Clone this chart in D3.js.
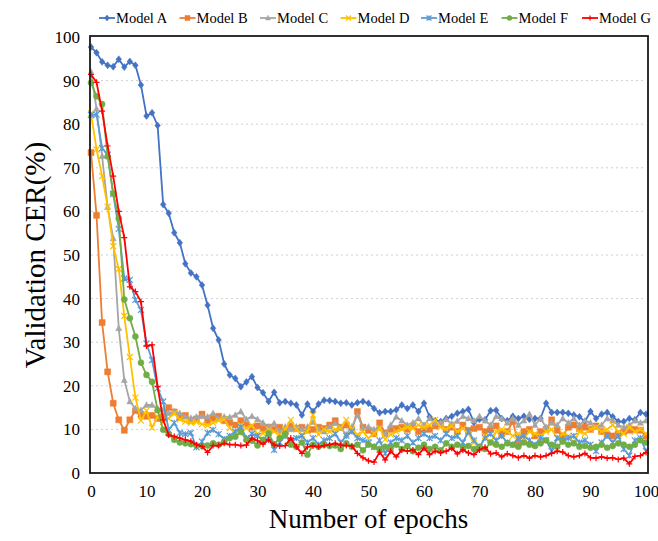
<!DOCTYPE html>
<html><head><meta charset="utf-8">
<script src="https://cdn.jsdelivr.net/npm/d3@7/dist/d3.min.js"></script>
<style>body{margin:0;background:#fff}svg{display:block}</style>
</head><body>
<svg id="c" width="658" height="541"></svg>
<script>
const seriesNames = ["Model A","Model B","Model C","Model D","Model E","Model F","Model G"];
const seriesColors = ["#4472C4","#ED7D31","#A5A5A5","#FFC000","#5B9BD5","#70AD47","#FF0000"];
const seriesMarkers = ["diamond","square","triangle","x","star","circle","plus"];
const xTicks = [0,10,20,30,40,50,60,70,80,90,100];
const yTicks = [0,10,20,30,40,50,60,70,80,90,100];

const modelA = [97.7,96.4,94.3,93.5,93.2,94.9,93.1,94.4,93.5,89.0,
81.9,82.6,79.7,61.6,59.6,55.1,52.8,48.0,45.9,45.0,
43.1,38.5,33.2,30.5,25.0,22.5,21.7,19.8,20.9,22.1,
19.6,18.4,16.4,18.5,16.1,16.4,16.0,15.6,13.3,15.8,
14.1,15.8,16.7,16.6,16.4,16.0,16.1,15.6,16.1,16.4,
16.0,14.8,13.8,14.1,14.1,14.5,15.6,14.8,15.6,14.1,
16.0,12.9,12.0,11.8,12.5,13.0,13.7,14.1,14.6,11.6,
12.3,12.2,14.3,14.4,12.5,12.0,13.0,12.5,13.0,12.3,
12.5,12.5,16.0,13.9,13.9,13.9,13.7,13.3,12.9,11.8,
14.1,12.5,13.5,13.9,12.9,11.8,11.8,12.5,12.2,13.9,13.5];
const modelB = [73.5,59.1,34.5,23.2,16.0,12.2,9.8,12.2,14.3,13.4,
13.0,13.2,12.5,13.0,15.0,14.0,12.8,13.2,12.0,12.4,
13.5,12.0,12.5,13.0,12.0,11.5,11.0,12.0,11.0,10.5,
10.8,10.2,10.5,10.0,10.5,9.5,10.8,10.2,10.5,9.8,
10.0,10.5,10.2,11.0,12.0,10.5,11.0,9.8,14.1,10.5,
9.8,9.0,11.5,9.2,10.0,10.2,10.5,10.0,10.8,9.5,
10.2,10.0,10.8,11.2,10.0,10.5,9.5,11.0,9.8,10.2,
10.5,9.5,10.0,10.8,9.0,9.5,11.8,6.8,9.5,10.0,
8.5,9.5,10.0,12.2,9.8,8.5,10.5,11.0,10.2,10.5,
10.0,10.8,9.5,8.8,8.5,9.0,9.5,9.8,10.0,9.8,8.5];
const modelC = [92.0,83.5,72.7,61.0,53.8,33.2,21.3,16.4,14.8,14.4,
15.6,15.6,14.8,14.5,13.7,14.1,13.7,12.9,12.6,12.9,
13.0,12.9,13.7,12.5,12.9,12.8,13.3,14.1,12.3,13.0,
12.3,11.5,10.6,11.4,9.5,10.6,10.0,10.6,10.0,10.6,
11.7,10.0,9.5,10.6,11.4,10.3,8.8,10.6,13.3,10.3,
10.6,10.0,10.3,8.8,11.0,12.9,12.0,11.0,11.5,12.5,
11.0,12.5,11.5,11.5,12.3,11.3,11.9,13.0,12.5,12.0,
13.0,12.0,11.0,13.0,12.5,11.5,12.5,11.0,12.0,13.5,
11.0,12.5,10.5,11.5,11.0,12.5,11.5,12.5,11.0,12.0,
11.5,10.5,11.0,12.5,12.0,11.0,10.5,11.0,12.0,11.5,12.0];
const modelD = [82.5,74.2,68.1,61.1,52.0,46.8,36.0,26.6,17.3,12.0,
14.3,10.4,12.9,11.7,12.5,13.7,12.3,11.8,11.5,11.7,
11.2,10.9,11.5,12.0,12.3,10.3,9.1,10.9,10.3,10.9,
8.9,9.1,10.0,9.5,8.8,10.0,12.2,10.0,8.8,9.5,
13.3,8.8,10.0,9.5,10.0,10.3,12.2,10.0,8.8,9.5,
8.0,9.0,10.3,7.7,8.8,9.5,10.0,10.5,10.2,11.0,
10.5,11.0,12.2,10.5,10.0,10.8,9.5,10.2,9.0,7.0,
5.6,8.5,6.8,9.5,10.0,9.5,8.5,9.0,8.0,9.5,
9.0,8.5,9.5,10.0,8.0,9.0,8.5,7.0,9.5,9.0,
10.0,10.5,9.5,10.0,11.0,9.5,9.0,10.5,9.5,10.0,9.0];
const modelE = [82.1,82.2,74.5,73.0,64.0,56.0,44.6,44.3,39.7,37.4,
29.7,25.9,19.4,16.4,9.9,11.5,9.2,8.9,9.2,5.9,
7.2,9.2,9.9,8.9,7.8,8.5,9.5,10.5,8.0,9.0,
8.5,7.5,8.0,5.3,7.0,8.5,7.5,8.0,8.5,7.0,
8.0,6.5,7.5,8.0,9.0,7.0,8.5,9.5,8.0,7.5,
7.0,6.0,7.5,4.5,7.0,8.0,7.5,8.5,7.0,8.0,
9.0,8.0,8.5,7.5,9.0,8.0,8.5,7.0,9.5,7.5,
6.0,8.0,9.0,7.5,8.5,7.0,6.5,8.0,8.5,7.5,
6.5,8.0,7.5,5.0,8.0,7.5,8.0,8.5,7.0,7.5,
6.5,5.0,7.0,8.5,7.0,8.5,5.5,4.0,7.5,8.0,5.0];
const modelF = [89.5,86.4,84.6,72.6,64.1,58.4,39.8,35.5,31.3,25.3,
22.5,20.9,14.4,9.9,8.9,7.6,7.0,6.8,6.6,6.3,
6.2,6.3,6.8,6.5,7.2,8.0,8.3,9.4,7.6,7.4,
6.3,7.6,9.1,6.6,8.0,9.0,6.5,6.0,7.0,4.2,
6.5,6.0,6.5,6.2,6.3,5.5,6.8,6.0,6.5,5.2,
6.5,6.0,5.5,6.0,5.8,6.5,5.5,6.2,5.0,5.8,
6.5,5.5,6.0,5.2,6.8,6.0,6.5,5.8,6.2,5.5,
6.0,5.5,7.0,6.5,6.0,6.8,6.5,6.0,7.0,6.5,
6.2,6.8,7.5,6.5,6.0,7.2,6.5,6.8,6.0,6.2,
5.8,6.0,6.5,5.8,6.2,6.8,6.5,6.0,6.5,7.5,7.0];
const modelG = [91.4,89.6,83.0,75.0,68.1,60.0,54.0,42.7,41.6,39.3,
29.1,29.4,19.8,12.2,8.7,8.4,8.0,7.6,7.3,6.5,
6.1,4.7,6.3,6.3,6.8,6.5,6.5,6.3,6.4,8.0,
7.4,6.6,7.6,6.4,6.2,6.3,8.0,6.0,4.5,6.0,
6.2,6.0,6.3,6.5,6.8,6.4,6.3,6.2,4.5,3.5,
2.8,2.5,4.8,3.0,5.0,3.7,5.3,5.0,5.3,4.2,
5.7,4.2,5.0,4.6,5.0,5.7,4.4,5.3,4.6,4.2,
5.3,5.9,4.4,4.6,3.7,4.4,4.0,3.5,4.0,3.4,
4.0,3.7,4.0,4.5,5.0,4.8,4.0,3.7,4.0,4.5,
3.5,3.4,3.7,3.4,3.5,3.1,3.4,2.1,3.8,4.0,4.7];
const seriesValues = [modelA,modelB,modelC,modelD,modelE,modelF,modelG];

const svg = d3.select("#c");
const L = 91, R = 646, T = 37, B = 473;
const x = d3.scaleLinear().domain([0,100]).range([L,R]);
const y = d3.scaleLinear().domain([0,100]).range([B,T]);
const font = "'Liberation Serif','Times New Roman',serif";

// gridlines
svg.append("g").selectAll("line").data(yTicks.filter(d=>d>0&&d<100)).join("line")
  .attr("x1",L).attr("x2",R).attr("y1",d=>y(d)).attr("y2",d=>y(d))
  .attr("stroke","#d0d0d0").attr("stroke-width",1).attr("stroke-dasharray","2,3");

// axes (labels only)
const ya = svg.append("g").attr("transform",`translate(${L},0)`)
  .call(d3.axisLeft(y).tickValues(yTicks).tickSize(0).tickPadding(11));
const xa = svg.append("g").attr("transform",`translate(0,${B})`)
  .call(d3.axisBottom(x).tickValues(xTicks).tickSize(0).tickPadding(12));
[ya,xa].forEach(a=>{a.select(".domain").remove();
  a.selectAll("text").attr("font-family",font).attr("font-size",17).attr("fill","#000");});

function markerPath(type, s){
  const h=s/2;
  switch(type){
    case "diamond": return `M0,${-h}L${h*0.8},0L0,${h}L${-h*0.8},0Z`;
    case "square": return `M${-h},${-h}H${h}V${h}H${-h}Z`;
    case "triangle": return `M0,${-h*1.1}L${h},${h*0.8}L${-h},${h*0.8}Z`;
    case "circle": return d3.symbol(d3.symbolCircle, s*s*0.8)();
    case "x": return `M${-h},${-h}L${h},${h}M${-h},${h}L${h},${-h}`;
    case "star": return `M${-h},${-h}L${h},${h}M${-h},${h}L${h},${-h}M0,${-h}V${h}`;
    case "plus": return `M${-h},0H${h}M0,${-h}V${h}`;
  }
}
const filled = t => ["diamond","square","triangle","circle"].includes(t);
const msize = {diamond:7,square:6,triangle:6,circle:6,x:6,star:6,plus:6};

const line = d3.line().x((d,i)=>x(i)).y(d=>y(d));
const gPlot = svg.append("g");
seriesValues.forEach((vals,k)=>{
  const g = gPlot.append("g");
  const col = seriesColors[k], mk = seriesMarkers[k];
  g.append("path").datum(vals).attr("d",line).attr("fill","none")
    .attr("stroke",col).attr("stroke-width",1.8).attr("stroke-linejoin","round");
  g.selectAll("path.m").data(vals).join("path").attr("class","m")
    .attr("transform",(d,i)=>`translate(${x(i)},${y(d)})`)
    .attr("d",markerPath(mk,msize[mk]))
    .attr("fill",filled(mk)?col:"none").attr("stroke",col).attr("stroke-width",filled(mk)?0.5:1.2);
});

// frame
svg.append("rect").attr("x",L-1).attr("y",T-1).attr("width",R-L+3).attr("height",B-T+1)
  .attr("fill","none").attr("stroke","#1a1a1a").attr("stroke-width",1.8);

// legend
const lg = svg.append("g").attr("transform","translate(99,18)");
seriesNames.forEach((n,k)=>{
  const g = lg.append("g").attr("transform",`translate(${k*80.5},0)`);
  const col = seriesColors[k], mk = seriesMarkers[k];
  g.append("line").attr("x1",0).attr("x2",16).attr("stroke",col).attr("stroke-width",1.8);
  g.append("path").attr("transform","translate(8,0)").attr("d",markerPath(mk,msize[mk]-1))
    .attr("fill",filled(mk)?col:"none").attr("stroke",col).attr("stroke-width",filled(mk)?0.5:1.2);
  g.append("text").attr("x",17).attr("y",5).text(n).attr("font-family",font).attr("font-size",14.5).attr("fill","#000");
});

// titles
svg.append("text").attr("x",(L+R)/2).attr("y",528).attr("text-anchor","middle")
  .attr("font-family",font).attr("font-size",27).text("Number of epochs");
svg.append("text").attr("transform",`translate(45,${(T+B)/2}) rotate(-90)`).attr("text-anchor","middle")
  .attr("font-family",font).attr("font-size",29).text("Validation CER(%)");
</script>
</body></html>
